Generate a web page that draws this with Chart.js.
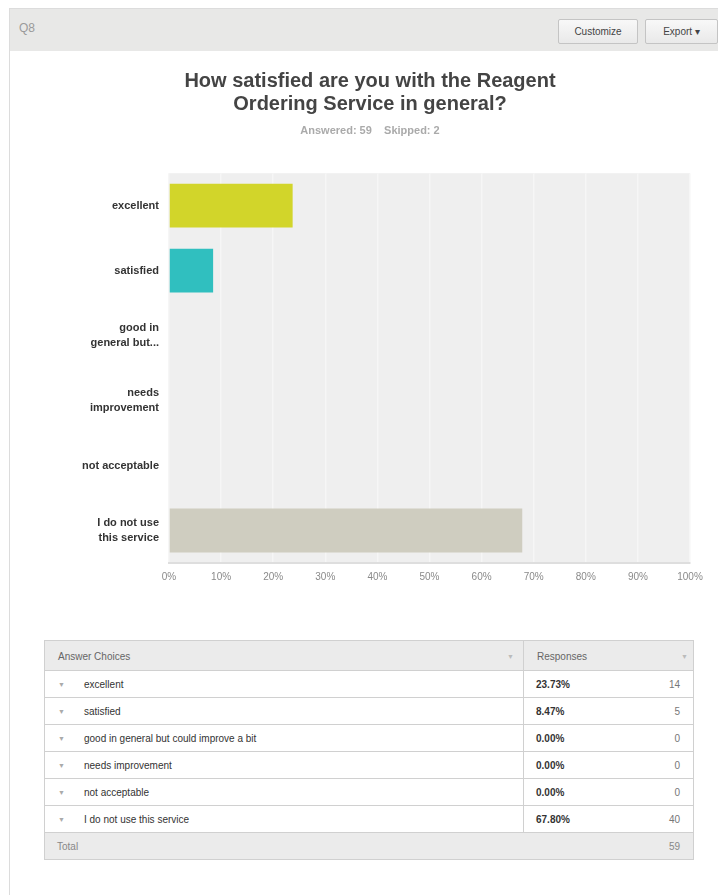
<!DOCTYPE html>
<html>
<head>
<meta charset="utf-8">
<script src="https://cdn.jsdelivr.net/npm/chart.js@4"></script>
<style>
  body { margin: 0; width: 718px; height: 895px; background: #fff; font-family: Arial, "Liberation Sans", sans-serif; position: relative; overflow: hidden; }
  .panel { position: absolute; left: 9px; top: 8px; width: 720px; height: 900px; border: 1px solid #dcdcdc; box-sizing: border-box; }
  .head { position: absolute; left: 0; top: 0; right: 0; height: 42px; background: #e8e8e7; }
  .q { position: absolute; left: 9px; top: 12px; font-size: 12px; color: #9a9a9a; }
  .btn { position: absolute; top: 10px; height: 25px; box-sizing: border-box; border: 1px solid #c4c4c4; border-radius: 2px; background: linear-gradient(#f8f8f8, #e9e9e9); font-size: 10px; color: #444; text-align: center; line-height: 23px; }
  #wrap { position: absolute; left: 0; top: 50px; width: 718px; height: 550px; }
  .tbl { position: absolute; left: 44px; top: 640px; width: 650px; font-size: 10px; color: #333; }
  .row { position: relative; height: 26px; border: 1px solid #d0d0d0; border-top: none; background: #fff; }
  .row.hd { height: 29px; border-top: 1px solid #d0d0d0; background: #ebebeb; color: #666; }
  .row.tot { background: #ebebeb; color: #888; }
  .row span { position: absolute; top: 50%; transform: translateY(-50%); white-space: nowrap; }
  .div { position: absolute; left: 478px; top: 0; bottom: 0; border-left: 1px solid #d0d0d0; }
  .car { font-size: 7px; color: #bbb; }
</style>
</head>
<body>
<div class="panel">
  <div class="head">
    <div class="q">Q8</div>
    <div class="btn" style="left:548px;width:80px;">Customize</div>
    <div class="btn" style="left:635px;width:73px;">Export &#9662;</div>
  </div>
</div>
<div id="wrap"><canvas id="surveyChart"></canvas></div>
<div class="tbl" id="tbl"></div>

<script>
const categories = ["excellent", "satisfied", "good in general but could improve a bit", "needs improvement", "not acceptable", "I do not use this service"];
const tickLabels = ["excellent", "satisfied", ["good in", "general but..."], ["needs", "improvement"], "not acceptable", ["I do not use", "this service"]];
const percents = [23.73, 8.47, 0, 0, 0, 67.80];
const counts = [14, 5, 0, 0, 0, 40];
const answered = 59;
const skipped = 2;
const barColors = ["#d2d52a", "#30bfbf", "#a3a3a3", "#8c9aa6", "#e07070", "#cfcdc0"];

document.addEventListener("DOMContentLoaded", function () {

    const plotBg = {
        id: "plotBg",
        beforeDraw(chart) {
            const a = chart.chartArea;
            const c = chart.ctx;
            c.save();
            c.fillStyle = "#efefef";
            c.fillRect(a.left, a.top, a.right - a.left, a.bottom - a.top);
            c.restore();
        }
    };

    const ctx = document.getElementById("surveyChart");

    new Chart(ctx, {
        type: "bar",
        data: {
            labels: tickLabels,
            datasets: [
                {
                    data: percents,
                    backgroundColor: barColors,
                    borderWidth: 0,
                    barPercentage: 0.675,
                    categoryPercentage: 1
                }
            ]
        },
        options: {
            indexAxis: "y",
            responsive: true,
            maintainAspectRatio: false,
            animation: false,
            layout: { padding: { left: 50, right: 28, top: 0, bottom: 0 } },
            plugins: {
                legend: { display: false },
                tooltip: { enabled: false },
                title: {
                    display: true,
                    text: ["How satisfied are you with the Reagent", "Ordering Service in general?"],
                    color: "#444",
                    font: { family: "Arial, 'Liberation Sans', sans-serif", size: 20, weight: "bold", lineHeight: 1.15 },
                    padding: { top: 20, bottom: 0 }
                },
                subtitle: {
                    display: true,
                    text: "Answered: " + answered + "    Skipped: " + skipped,
                    color: "#aaa",
                    font: { family: "Arial, 'Liberation Sans', sans-serif", size: 11, weight: "bold", lineHeight: 1.2 },
                    padding: { top: 8, bottom: 36 }
                }
            },
            scales: {
                x: {
                    min: 0,
                    max: 100,
                    afterFit: s => { s.height = 37; },
                    ticks: {
                        stepSize: 10,
                        padding: 8,
                        color: "#8a8a8a",
                        font: { family: "Arial, 'Liberation Sans', sans-serif", size: 10 },
                        callback: v => v + "%"
                    },
                    grid: { color: "#f6f6f6", lineWidth: 1.5, drawTicks: false },
                    border: { color: "#dedede", width: 2 }
                },
                y: {
                    afterFit: s => { s.width = 119; },
                    ticks: {
                        padding: 10,
                        color: "#333",
                        font: { family: "Arial, 'Liberation Sans', sans-serif", size: 11, weight: "bold", lineHeight: 1.36 }
                    },
                    grid: { display: false, drawTicks: false },
                    border: { display: false }
                }
            }
        },
        plugins: [plotBg]
    });

    // response table
    const tbl = document.getElementById("tbl");
    let html = '<div class="row hd"><span style="left:13px">Answer Choices</span><span class="car" style="left:462px">&#9660;</span>' +
        '<div class="div"></div><span style="left:492px">Responses</span><span class="car" style="left:636px">&#9660;</span></div>';
    categories.forEach((c, i) => {
        html += '<div class="row"><span class="car" style="left:13px;color:#aaa">&#9660;</span>' +
            '<span style="left:39px">' + c + '</span><div class="div"></div>' +
            '<span style="left:491px;font-weight:bold">' + percents[i].toFixed(2) + '%</span>' +
            '<span style="right:13px;color:#777">' + counts[i] + '</span></div>';
    });
    html += '<div class="row tot"><span style="left:12px">Total</span><span style="right:13px">' + answered + '</span></div>';
    tbl.innerHTML = html;
});
</script>
</body>
</html>
